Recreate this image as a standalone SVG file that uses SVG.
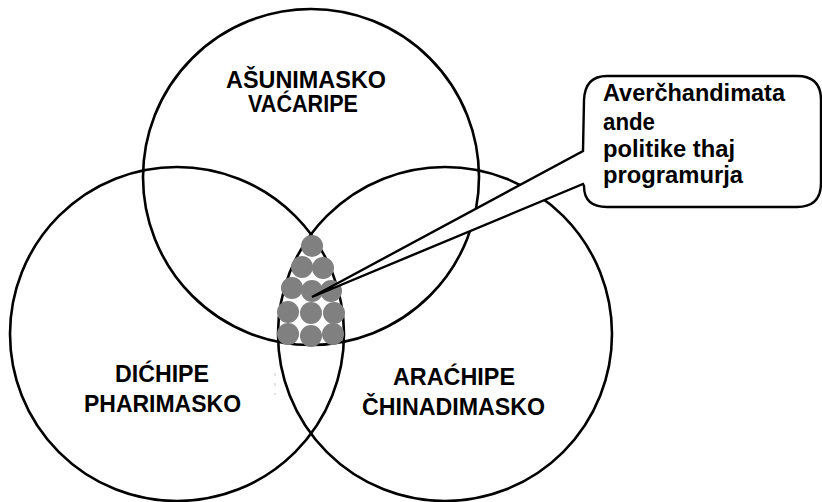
<svg xmlns="http://www.w3.org/2000/svg" width="822" height="502" viewBox="0 0 822 502">
<style>
.ring{fill:none;stroke:#000;stroke-width:2.6}
.lbl{font-family:"Liberation Sans",Arial,sans-serif;font-weight:bold;font-size:23px;fill:#000}
.dot{fill:#808080}
.callout{fill:#fff;stroke:#000;stroke-width:2.4;stroke-linejoin:miter}
</style>
<rect width="822" height="502" fill="#fff"/>
<g id="top-circle">
<circle class="ring" cx="311" cy="177" r="168"/>
<text class="lbl" x="226" y="88" textLength="160" lengthAdjust="spacingAndGlyphs">AŠUNIMASKO</text>
<text class="lbl" x="248" y="112" textLength="110" lengthAdjust="spacingAndGlyphs">VAĆARIPE</text>
</g>
<g id="left-circle">
<circle class="ring" cx="177" cy="334" r="167"/>
<text class="lbl" x="115" y="382" textLength="94" lengthAdjust="spacingAndGlyphs">DIĆHIPE</text>
<text class="lbl" x="84" y="412" textLength="157" lengthAdjust="spacingAndGlyphs">PHARIMASKO</text>
</g>
<g id="right-circle">
<circle class="ring" cx="445" cy="334" r="167"/>
<text class="lbl" x="393" y="385" textLength="122" lengthAdjust="spacingAndGlyphs">ARAĆHIPE</text>
<text class="lbl" x="362" y="415" textLength="183" lengthAdjust="spacingAndGlyphs">ČHINADIMASKO</text>
</g>
<g id="intersection-dots">
<circle class="dot" cx="312" cy="246" r="11"/>
<circle class="dot" cx="302" cy="267" r="11"/>
<circle class="dot" cx="323" cy="268" r="11"/>
<circle class="dot" cx="292" cy="288" r="11"/>
<circle class="dot" cx="312" cy="291" r="11"/>
<circle class="dot" cx="331" cy="291" r="11"/>
<circle class="dot" cx="288" cy="312" r="11"/>
<circle class="dot" cx="311" cy="313" r="11"/>
<circle class="dot" cx="334" cy="313" r="11"/>
<circle class="dot" cx="288" cy="334" r="11"/>
<circle class="dot" cx="311" cy="336" r="11"/>
<circle class="dot" cx="333" cy="334" r="11"/>
</g>
<line x1="275" y1="373" x2="275" y2="395" stroke="#c8c8c8" stroke-width="1" stroke-dasharray="3,7"/>
<g id="connectors">
<g id="callout">
<path class="callout" d="M607,76 H797 Q821,76 821,100 V183 Q821,207 797,207 H607 Q584,207 584,186 L583,184 L312,297 L583,151 L584,100 Q585,76 607,76 Z"/>
<text class="lbl" x="603" y="101" textLength="182" lengthAdjust="spacingAndGlyphs">Averčhandimata</text>
<text class="lbl" x="603" y="130" textLength="52" lengthAdjust="spacingAndGlyphs">ande</text>
<text class="lbl" x="603" y="157" textLength="132" lengthAdjust="spacingAndGlyphs">politike thaj</text>
<text class="lbl" x="603" y="183" textLength="140" lengthAdjust="spacingAndGlyphs">programurja</text>
</g>
</g>
</svg>
